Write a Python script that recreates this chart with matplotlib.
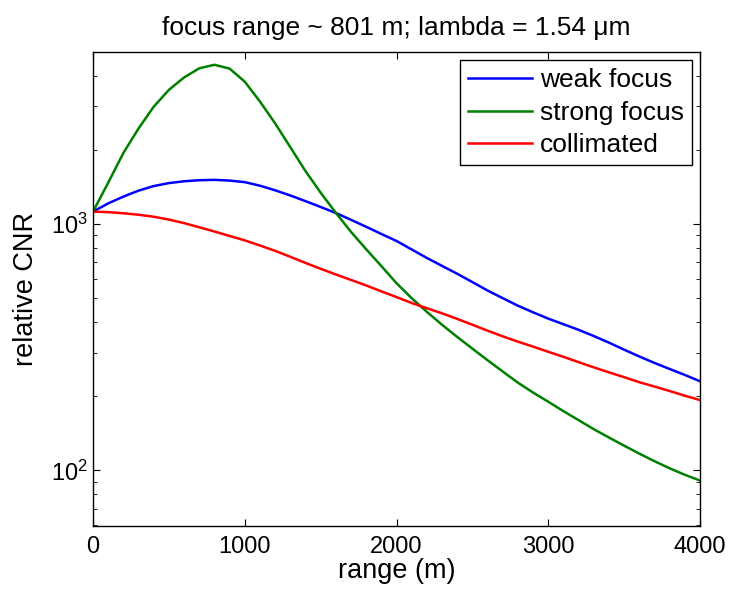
import matplotlib
matplotlib.use("Agg")
import matplotlib.pyplot as plt
from matplotlib.ticker import LogLocator, FixedLocator

plt.rcParams['font.family'] = ['Liberation Sans', 'DejaVu Sans']
plt.rcParams['mathtext.fontset'] = 'custom'
plt.rcParams['mathtext.rm'] = 'Liberation Sans'

range_m = [0, 100, 200, 300, 400, 500, 600, 700, 800, 900, 1000,
           1100, 1200, 1300, 1400, 1500, 1600, 1700, 1800, 1900, 2000,
           2100, 2200, 2300, 2400, 2500, 2600, 2700, 2800, 2900, 3000,
           3100, 3200, 3300, 3400, 3500, 3600, 3700, 3800, 3900, 4000]
weak_focus = [1122, 1212, 1291, 1365, 1425, 1465, 1490, 1505, 1510, 1500, 1478,
              1430, 1370, 1305, 1238, 1172, 1108, 1040, 974, 911, 853,
              788, 728, 676, 628, 581, 537, 500, 466, 438, 413,
              392, 372, 351, 330, 309, 290, 273, 258, 244, 230]
strong_focus = [1122, 1470, 1940, 2440, 2990, 3500, 3930, 4280, 4425, 4270, 3780,
                3140, 2560, 2050, 1640, 1340, 1110, 929, 790, 675, 575,
                500, 440, 390, 348, 312, 280, 252, 227, 207, 190,
                174, 160, 147, 136, 126, 117, 109, 102, 96, 91]
collimated = [1122, 1117, 1105, 1090, 1070, 1042, 1008, 970, 932, 894, 858,
              818, 778, 736, 695, 658, 624, 593, 563, 533, 505,
              478, 455, 434, 412, 390, 369, 350, 333, 318, 303,
              289, 275, 262, 250, 239, 228, 219, 210, 201, 193]
series_labels = ["weak focus", "strong focus", "collimated"]
x_ticks = [0, 1000, 2000, 3000, 4000]

fig = plt.figure(figsize=(7.32, 5.89), dpi=100)
ax = fig.add_axes([93/732, 1 - 526/589, (700-93)/732, (526-51.7)/589])

ax.plot(range_m, weak_focus, color=(0, 0, 1), lw=1.8, label=series_labels[0])
ax.plot(range_m, strong_focus, color=(0, 0.5, 0), lw=1.8, label=series_labels[1])
ax.plot(range_m, collimated, color=(1, 0, 0), lw=1.8, label=series_labels[2])

ax.set_yscale('log')
ax.set_xlim(0, 4000)
ax.set_ylim(59.5, 5000)
ax.xaxis.set_major_locator(FixedLocator(x_ticks))
ax.yaxis.set_major_locator(LogLocator(base=10, numticks=10))
ax.yaxis.set_minor_locator(LogLocator(base=10, subs=range(2, 10), numticks=20))

ax.tick_params(which='both', direction='in', top=True, right=True, labelsize=17)
ax.tick_params(axis='x', which='major', length=5, pad=7)
ax.tick_params(axis='y', which='major', length=5, pad=4)
ax.tick_params(which='minor', length=3)
for s in ax.spines.values():
    s.set_linewidth(1.0)

ax.set_title("focus range ~ 801 m; lambda = 1.54 μm", fontsize=19, pad=12)
ax.set_xlabel("range (m)", fontsize=19.5, labelpad=0)
ax.set_ylabel("relative CNR", fontsize=19.5, labelpad=8)

leg = ax.legend(loc='upper right', fontsize=19, frameon=True, fancybox=False,
                edgecolor='black', framealpha=1, borderpad=0.3, handlelength=2.4,
                handletextpad=0.3, labelspacing=0.33, borderaxespad=0.32)
leg.get_frame().set_linewidth(1.0)

fig.savefig("out.png", dpi=100)
